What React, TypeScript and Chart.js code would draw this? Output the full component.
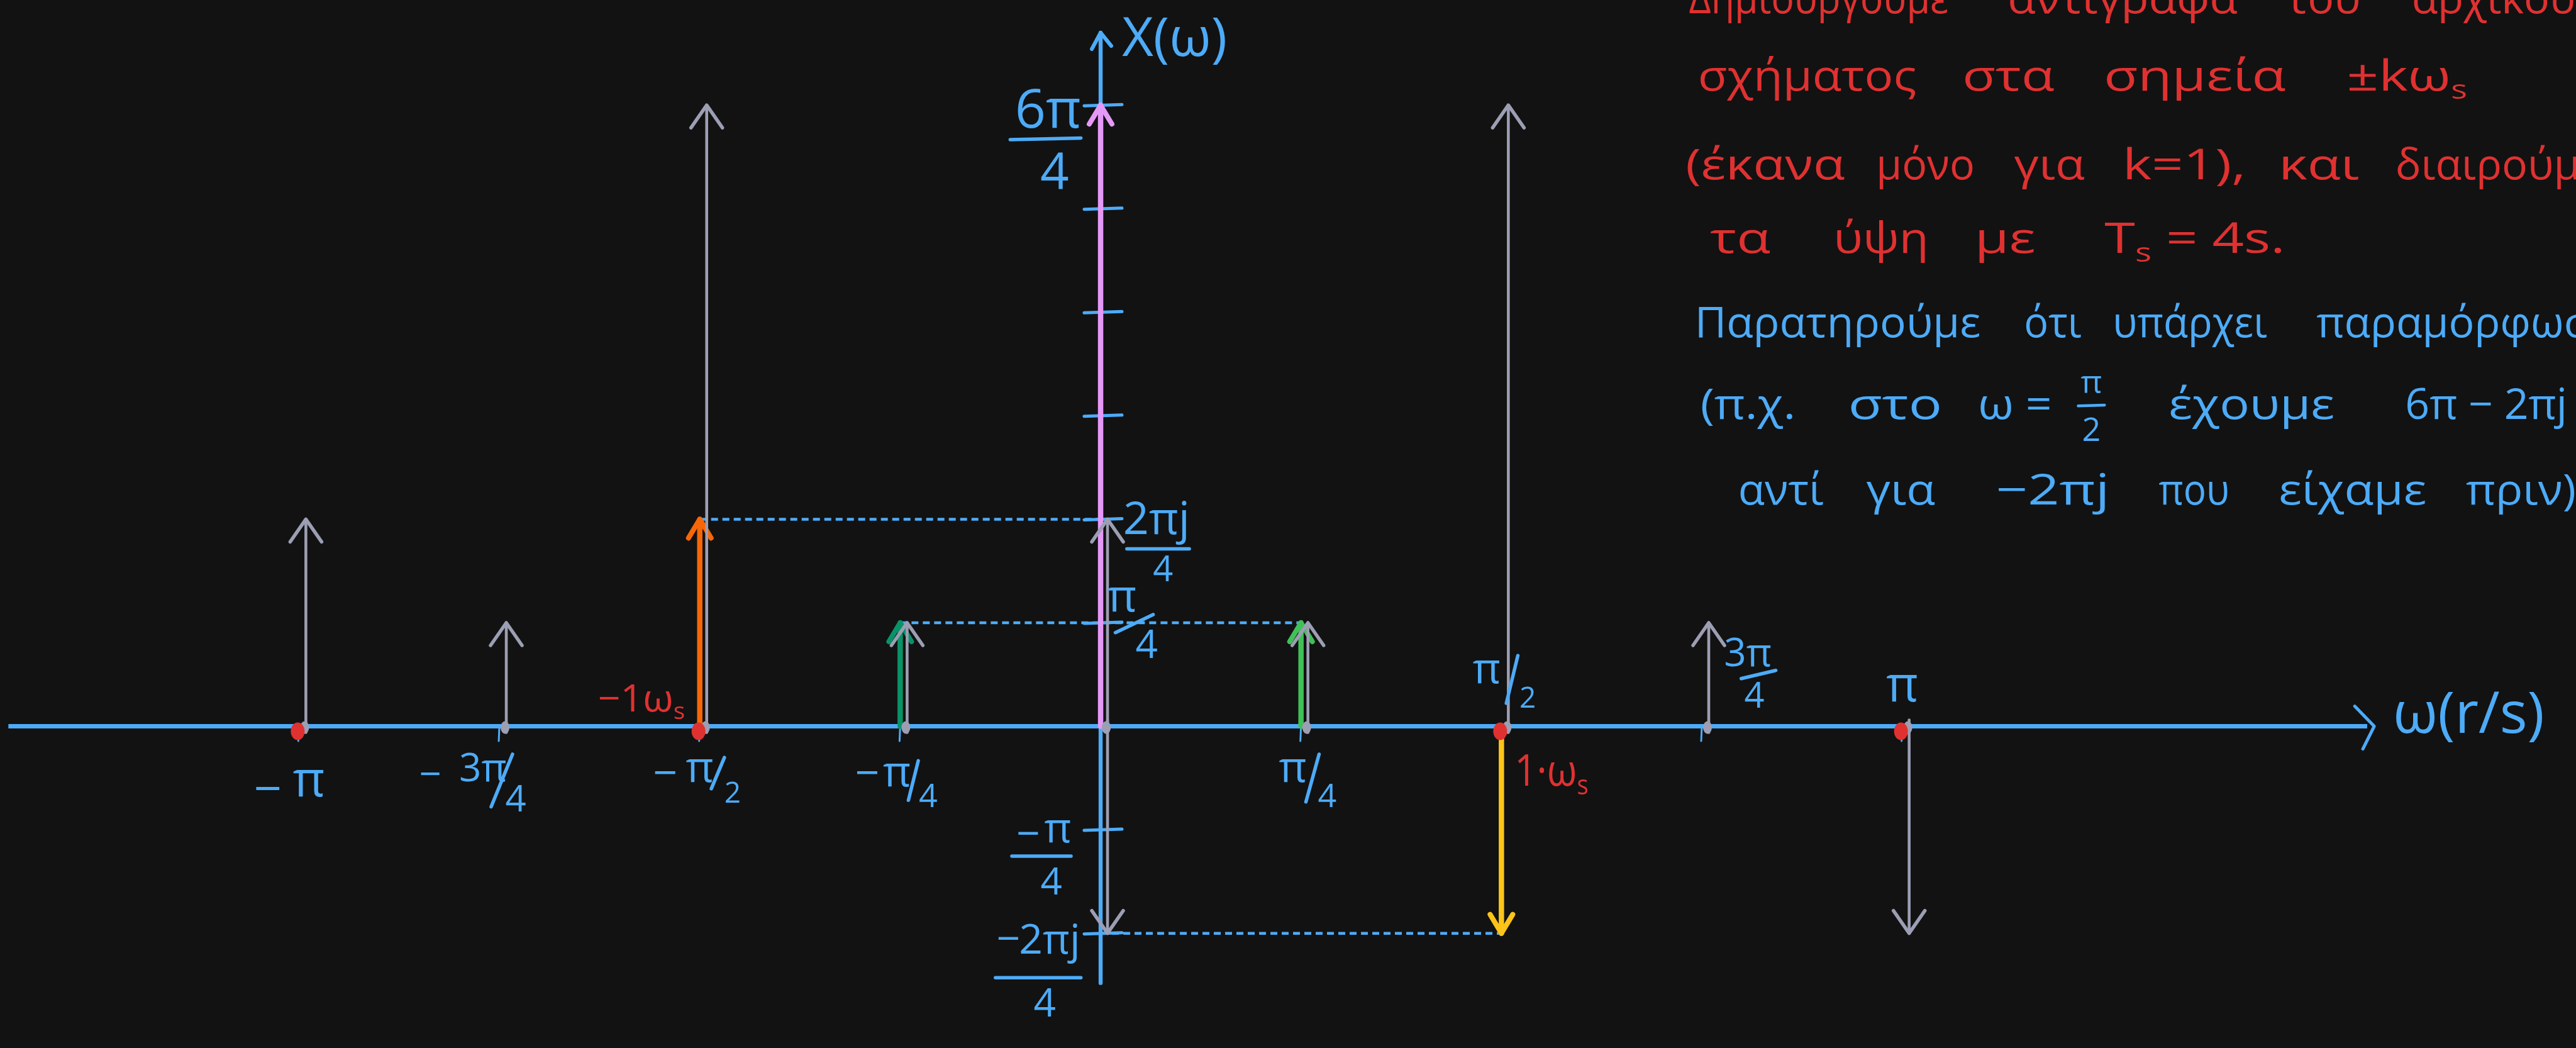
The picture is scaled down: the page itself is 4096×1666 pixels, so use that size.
import React, { useEffect, useRef } from 'react';
import { Chart, registerables } from 'chart.js';

Chart.register(...registerables);

const WIDTH = 4096;
const HEIGHT = 1666;
const U = WIDTH / 1568; // layout unit used for offsets and note positions

const FONT = '"Open Sans", "DejaVu Sans", sans-serif';
const font = (px: number) => `${px}px ${FONT}`;

const C = {
  bg: '#121212',
  blue: '#4dabf7',
  gray: '#9c9eb3',
  red: '#e03131',
  pink: '#e599f7',
  orange: '#f76707',
  darkGreen: '#099268',
  green: '#40c057',
  yellow: '#fcc419',
};

// ω positions, in units of π/4
const omegaTicks = [-4, -3, -2, -1, 0, 1, 2, 3, 4];
const omegaLabels = ['−π', '−3π/4', '−π/2', '−π/4', '', 'π/4', 'π/2', '3π/4', 'π'];

// X(ω) levels, in units of π/4
const levelTicks = [6, 5, 4, 3, 2, 1, -1, -2];
const labelledLevels = [6, 2, 1, -1, -2];
const levelLabels = ['6π/4', '2πj/4', 'π/4', '−π/4', '−2πj/4'];

// spectrum of the original signal
const spectrumOmega = [-2, -1, 0, 1, 2];
const spectrumHeight = [2, 1, 6, 1, -2];
const spectrumColors = [C.orange, C.darkGreen, C.pink, C.green, C.yellow];

// copy shifted to +ωs
const copyRightOmega = [0, 1, 2, 3, 4];
const copyRightHeight = [2, 1, 6, 1, -2];

// copy shifted to −ωs
const copyLeftOmega = [-4, -3, -2, -1, 0];
const copyLeftHeight = [2, 1, 6, 1, -2];

// multiples of ωs marked on the ω axis
const sampleOmega = [-4, -2, 2, 4];

// dotted read-off lines
const guideLevel = [2, 1, -2];
const guideFrom = [-2, -1, 0];
const guideTo = [0, 1, 2];

// visible window of the two scales
const OMEGA_MIN = -5.4918;
const OMEGA_MAX = 7.362;
const LEVEL_MIN = -3.108;
const LEVEL_MAX = 7.016;

// hand-drawn axes extents (data units)
const AXIS_X_START = -5.45;
const AXIS_X_END = 6.32;
const AXIS_X_TIP = 6.355;
const AXIS_Y_BOTTOM = -2.48;
const AXIS_Y_TOP = 6.7;

type Part = { t: string; sub?: boolean };
type Word = { x: number; w?: number; parts?: Part[]; frac?: [string, string] };
type NoteLine = { color: string; base: number; words: Word[] };

const NOTE_FS = 68;
const NOTE_LINES: NoteLine[] = [
  {
    color: C.red, base: 8, words: [
      { x: 1028, w: 158, parts: [{ t: 'Δημιουργούμε' }] },
      { x: 1222, w: 140, parts: [{ t: 'αντίγραφα' }] },
      { x: 1392, w: 45, parts: [{ t: 'του' }] },
      { x: 1468, parts: [{ t: 'αρχικού' }] },
    ],
  },
  {
    color: C.red, base: 55, words: [
      { x: 1033.5, w: 133, parts: [{ t: 'σχήματος' }] },
      { x: 1194.5, w: 56, parts: [{ t: 'στα' }] },
      { x: 1280.6, w: 112, parts: [{ t: 'σημεία' }] },
      { x: 1428.5, w: 108, parts: [{ t: '±kω' }, { t: 's', sub: true }] },
    ],
  },
  {
    color: C.red, base: 109, words: [
      { x: 1026, w: 97, parts: [{ t: '(έκανα' }] },
      { x: 1142, w: 60, parts: [{ t: 'μόνο' }] },
      { x: 1226, w: 43, parts: [{ t: 'για' }] },
      { x: 1292, w: 75, parts: [{ t: 'k=1),' }] },
      { x: 1387, w: 49, parts: [{ t: 'και' }] },
      { x: 1458, parts: [{ t: 'διαιρούμε' }] },
    ],
  },
  {
    color: C.red, base: 154, words: [
      { x: 1041, w: 47, parts: [{ t: 'τα' }] },
      { x: 1116, w: 58, parts: [{ t: 'ύψη' }] },
      { x: 1202, w: 45, parts: [{ t: 'με' }] },
      { x: 1281, w: 129, parts: [{ t: 'T' }, { t: 's', sub: true }, { t: ' = 4s.' }] },
    ],
  },
  {
    color: C.blue, base: 205, words: [
      { x: 1031.6, w: 174, parts: [{ t: 'Παρατηρούμε' }] },
      { x: 1232, w: 35, parts: [{ t: 'ότι' }] },
      { x: 1286, w: 94, parts: [{ t: 'υπάρχει' }] },
      { x: 1410, parts: [{ t: 'παραμόρφωση' }] },
    ],
  },
  {
    color: C.blue, base: 255, words: [
      { x: 1035, w: 58, parts: [{ t: '(π.χ.' }] },
      { x: 1125, w: 58, parts: [{ t: 'στο' }] },
      { x: 1204, w: 45, parts: [{ t: 'ω =' }] },
      { x: 1273, frac: ['π', '2'] },
      { x: 1320, w: 101, parts: [{ t: 'έχουμε' }] },
      { x: 1464, parts: [{ t: '6π − 2πj' }] },
    ],
  },
  {
    color: C.blue, base: 307, words: [
      { x: 1058, w: 52, parts: [{ t: 'αντί' }] },
      { x: 1136, w: 42, parts: [{ t: 'για' }] },
      { x: 1215, w: 69, parts: [{ t: '−2πj' }] },
      { x: 1314, w: 43, parts: [{ t: 'που' }] },
      { x: 1387, w: 90, parts: [{ t: 'είχαμε' }] },
      { x: 1501, w: 67, parts: [{ t: 'πριν)' }] },
    ],
  },
];

// label placement, offsets in layout units from the tick anchor (glyph-box centres)
type LabelLayout = {
  num: [number, number];
  pre?: [number, number];
  den?: [number, number];
  bar?: [number, number, number, number];
  fs: number;
  denFs?: number;
};

const OMEGA_LABEL_LAYOUT: (LabelLayout | null)[] = [
  { num: [6, 35], pre: [-19, 38], fs: 78 },
  { num: [-10, 25], pre: [-42, 29], den: [10, 44], bar: [8, 17, -5, 49], fs: 62, denFs: 58 },
  { num: [0, 27], pre: [-21, 28], den: [20, 40], bar: [15, 19, 7, 38], fs: 68, denFs: 46 },
  { num: [-2, 30], pre: [-20, 28], den: [17, 42], bar: [11, 21, 5, 45], fs: 68, denFs: 52 },
  null,
  { num: [-5, 27], den: [16, 42], bar: [11, 17, 3, 46], fs: 68, denFs: 52 },
  { num: [-9, -33], den: [16, -18], bar: [10, -43, 3, -14], fs: 68, denFs: 46 },
  { num: [28, -45], den: [32, -19], bar: [24, -29, 45, -34], fs: 62, denFs: 56 },
  { num: [0, -23], fs: 78 },
];

const LEVEL_LABEL_LAYOUT: LabelLayout[] = [
  { num: [-32, 2], den: [-28, 40], bar: [-55, 21, -12, 20], fs: 86, denFs: 80 },
  { num: [34, 2], den: [38, 30], bar: [16, 18, 54, 18], fs: 72, denFs: 56 },
  { num: [13, -14], den: [28, 13], bar: [9, 6, 32, -5], fs: 72, denFs: 62 },
  { num: [-26, 1], pre: [-44, 2], den: [-30, 31], bar: [-54, 16, -18, 16], fs: 66, denFs: 60 },
  { num: [-31, 6], pre: [-56, 3], den: [-34, 42], bar: [-64, 27, -12, 27], fs: 66, denFs: 62 },
];

type ImpulseStyle = { dx: number; width: number; head: number; half: number; len: number; tail: number };
const SPECTRUM_STYLE: ImpulseStyle = { dx: 0, width: 8.5, head: 8, half: 18, len: 30, tail: 0 };
const COPY_STYLE: ImpulseStyle = { dx: 11, width: 4.6, head: 5.5, half: 25, len: 36, tail: 10 };

function splitLabel(s: string) {
  let pre = '';
  let rest = s;
  if (rest.startsWith('−')) {
    pre = '−';
    rest = rest.slice(1);
  }
  const [num, den] = rest.split('/');
  return { pre, num, den };
}

// text centred on its visible glyph box
function fillCentered(ctx: CanvasRenderingContext2D, text: string, cx: number, cy: number) {
  ctx.textAlign = 'center';
  ctx.textBaseline = 'alphabetic';
  const m = ctx.measureText(text);
  ctx.fillText(text, cx, cy + (m.actualBoundingBoxAscent - m.actualBoundingBoxDescent) / 2);
}

function drawLabel(ctx: CanvasRenderingContext2D, text: string, ax: number, ay: number, L: LabelLayout, color: string) {
  const { pre, num, den } = splitLabel(text);
  ctx.fillStyle = color;
  ctx.strokeStyle = color;
  ctx.font = font(L.fs);
  if (pre && L.pre) fillCentered(ctx, pre, ax + L.pre[0] * U, ay + L.pre[1] * U);
  const numText = pre && !L.pre ? pre + num : num;
  fillCentered(ctx, numText, ax + L.num[0] * U, ay + L.num[1] * U);
  if (den && L.den) {
    ctx.font = font(L.denFs ?? L.fs);
    fillCentered(ctx, den, ax + L.den[0] * U, ay + L.den[1] * U);
  }
  if (L.bar) {
    ctx.lineWidth = 5.5;
    ctx.lineCap = 'round';
    ctx.beginPath();
    ctx.moveTo(ax + L.bar[0] * U, ay + L.bar[1] * U);
    ctx.lineTo(ax + L.bar[2] * U, ay + L.bar[3] * U);
    ctx.stroke();
  }
}

function drawParts(ctx: CanvasRenderingContext2D, parts: Part[], fs: number, x: number, y: number, targetW?: number) {
  ctx.textAlign = 'left';
  ctx.textBaseline = 'alphabetic';
  const sizes = parts.map((p) => (p.sub ? fs * 0.62 : fs));
  const widths = parts.map((p, i) => {
    ctx.font = font(sizes[i]);
    return ctx.measureText(p.t).width;
  });
  const total = widths.reduce((a, b) => a + b, 0);
  let sx = 1;
  if (targetW) sx = Math.min(1.3, Math.max(0.7, targetW / total));
  ctx.save();
  ctx.translate(x, y);
  ctx.scale(sx, 1);
  let cx = 0;
  parts.forEach((p, i) => {
    ctx.font = font(sizes[i]);
    ctx.fillText(p.t, cx, p.sub ? fs * 0.2 : 0);
    cx += widths[i];
  });
  ctx.restore();
}

function drawImpulse(ctx: CanvasRenderingContext2D, x: number, y0: number, y1: number, color: string, st: ImpulseStyle) {
  const dir = y1 < y0 ? -1 : 1;
  ctx.strokeStyle = color;
  ctx.lineCap = 'round';
  ctx.lineJoin = 'round';
  ctx.lineWidth = st.width;
  ctx.beginPath();
  ctx.moveTo(x, y0 - dir * st.tail);
  ctx.lineTo(x, y1);
  ctx.stroke();
  ctx.lineWidth = st.head;
  ctx.beginPath();
  ctx.moveTo(x - st.half, y1 - dir * st.len);
  ctx.lineTo(x, y1);
  ctx.lineTo(x + st.half, y1 - dir * st.len);
  ctx.stroke();
}

const sketchPlugin = {
  id: 'spectrumSketch',
  beforeDraw(chart: any) {
    const { ctx, width, height } = chart;
    ctx.save();
    ctx.fillStyle = C.bg;
    ctx.fillRect(0, 0, width, height);
    ctx.restore();
  },
  afterDatasetsDraw(chart: any) {
    const ctx: CanvasRenderingContext2D = chart.ctx;
    const xs = chart.scales.x;
    const ys = chart.scales.y;
    const X = (v: number) => xs.getPixelForValue(v);
    const Y = (v: number) => ys.getPixelForValue(v);
    const x0 = X(0);
    const y0 = Y(0);

    ctx.save();

    // notes
    NOTE_LINES.forEach((line) => {
      ctx.fillStyle = line.color;
      ctx.strokeStyle = line.color;
      line.words.forEach((w) => {
        const bx = w.x * U;
        const by = line.base * U;
        if (w.frac) {
          ctx.font = font(52);
          fillCentered(ctx, w.frac[0], bx, by - 21 * U);
          fillCentered(ctx, w.frac[1], bx, by + 6 * U);
          ctx.lineWidth = 4.5;
          ctx.lineCap = 'round';
          ctx.beginPath();
          ctx.moveTo(bx - 8 * U, by - 8 * U);
          ctx.lineTo(bx + 8 * U, by - 8.5 * U);
          ctx.stroke();
        } else if (w.parts) {
          drawParts(ctx, w.parts, NOTE_FS, bx, by, w.w ? w.w * U : undefined);
        }
      });
    });

    // dotted read-off lines
    ctx.strokeStyle = C.blue;
    ctx.lineWidth = 4.5;
    ctx.lineCap = 'butt';
    ctx.setLineDash([11, 7]);
    guideLevel.forEach((lv, i) => {
      ctx.beginPath();
      ctx.moveTo(X(guideFrom[i]), Y(lv));
      ctx.lineTo(X(guideTo[i]), Y(lv));
      ctx.stroke();
    });
    ctx.setLineDash([]);

    // ω axis with open arrow head
    ctx.strokeStyle = C.blue;
    ctx.lineWidth = 7;
    ctx.beginPath();
    ctx.moveTo(X(AXIS_X_START), y0);
    ctx.lineTo(X(AXIS_X_END), y0);
    ctx.stroke();
    const tipX = X(AXIS_X_TIP);
    ctx.lineWidth = 5;
    ctx.lineCap = 'round';
    ctx.lineJoin = 'round';
    ctx.beginPath();
    ctx.moveTo(tipX - 31, y0 - 32);
    ctx.lineTo(tipX, y0);
    ctx.lineTo(tipX - 18, y0 + 36);
    ctx.stroke();

    // X(ω) axis with arrow head
    ctx.lineWidth = 6.4;
    ctx.lineCap = 'round';
    ctx.beginPath();
    ctx.moveTo(x0, Y(AXIS_Y_BOTTOM));
    ctx.lineTo(x0, Y(AXIS_Y_TOP));
    ctx.stroke();
    const topY = Y(AXIS_Y_TOP);
    ctx.lineWidth = 6;
    ctx.beginPath();
    ctx.moveTo(x0 - 14, topY + 26);
    ctx.lineTo(x0, topY);
    ctx.lineTo(x0 + 17, topY + 21);
    ctx.stroke();

    // level ticks across the X(ω) axis
    ctx.lineWidth = 5;
    levelTicks.forEach((lv) => {
      ctx.beginPath();
      ctx.moveTo(x0 - 10 * U, Y(lv) + 1);
      ctx.lineTo(x0 + 13 * U, Y(lv) - 1);
      ctx.stroke();
    });

    // small ticks under the ω axis
    ctx.lineWidth = 3;
    omegaTicks.forEach((w) => {
      if (w === 0) return;
      ctx.beginPath();
      ctx.moveTo(X(w), y0);
      ctx.lineTo(X(w) - 1, y0 + 9 * U);
      ctx.stroke();
    });

    // impulses: original spectrum first, shifted copies after
    chart.data.datasets.forEach((ds: any, di: number) => {
      const meta = chart.getDatasetMeta(di);
      const st = ds.kind === 'copy' ? COPY_STYLE : SPECTRUM_STYLE;
      meta.data.forEach((el: any, j: number) => {
        const color = ds.kind === 'copy' ? C.gray : ds.impulseColors[j];
        drawImpulse(ctx, el.x + st.dx, y0, el.y, color, st);
      });
    });

    // small marks at the copy bases
    ctx.fillStyle = C.gray;
    chart.data.datasets.forEach((ds: any, di: number) => {
      if (ds.kind !== 'copy') return;
      chart.getDatasetMeta(di).data.forEach((el: any) => {
        ctx.beginPath();
        ctx.ellipse(el.x + COPY_STYLE.dx - 2, y0 + 2, 7, 10, 0, 0, Math.PI * 2);
        ctx.fill();
      });
    });

    // ±kωs markers
    ctx.fillStyle = C.red;
    sampleOmega.forEach((w) => {
      ctx.beginPath();
      ctx.ellipse(X(w) - 2, y0 + 8, 11, 14, 0, 0, Math.PI * 2);
      ctx.fill();
    });

    // ω tick labels
    omegaTicks.forEach((w, i) => {
      const L = OMEGA_LABEL_LAYOUT[i];
      if (!L || !omegaLabels[i]) return;
      drawLabel(ctx, omegaLabels[i], X(w), y0, L, C.blue);
    });

    // level labels
    labelledLevels.forEach((lv, i) => {
      drawLabel(ctx, levelLabels[i], x0, Y(lv), LEVEL_LABEL_LAYOUT[i], C.blue);
    });

    // axis titles
    ctx.fillStyle = C.blue;
    ctx.textAlign = 'left';
    ctx.textBaseline = 'alphabetic';
    ctx.font = font(86);
    ctx.fillText('X(ω)', 683 * U, 34 * U);
    ctx.font = font(92);
    ctx.fillText('ω(r/s)', tipX + 30, y0 + 4 * U);

    // shift labels
    ctx.fillStyle = C.red;
    drawParts(ctx, [{ t: '−1ω' }, { t: 's', sub: true }], 60, X(-2) - 62 * U, y0 - 9 * U, 53 * U);
    drawParts(ctx, [{ t: '1·ω' }, { t: 's', sub: true }], 70, X(2) + 8 * U, y0 + 36 * U, 45 * U);

    ctx.restore();
  },
};

export default function App() {
  const ref = useRef<HTMLCanvasElement>(null);

  useEffect(() => {
    document.body.style.margin = '0';
    document.body.style.background = C.bg;
    document.body.style.overflow = 'hidden';
    const canvas = ref.current;
    if (!canvas) return;

    const toPoints = (xsArr: number[], ysArr: number[]) => xsArr.map((x, i) => ({ x, y: ysArr[i] }));

    const chart = new Chart(canvas, {
      type: 'scatter',
      data: {
        datasets: [
          {
            label: 'X(ω)',
            data: toPoints(spectrumOmega, spectrumHeight),
            pointRadius: 0,
            showLine: false,
            kind: 'spectrum',
            impulseColors: spectrumColors,
          } as any,
          {
            label: 'X(ω + ωs)',
            data: toPoints(copyLeftOmega, copyLeftHeight),
            pointRadius: 0,
            showLine: false,
            kind: 'copy',
          } as any,
          {
            label: 'X(ω − ωs)',
            data: toPoints(copyRightOmega, copyRightHeight),
            pointRadius: 0,
            showLine: false,
            kind: 'copy',
          } as any,
        ],
      },
      options: {
        animation: false,
        responsive: false,
        maintainAspectRatio: false,
        devicePixelRatio: 1,
        events: [],
        layout: { padding: 0 },
        plugins: {
          legend: { display: false },
          tooltip: { enabled: false },
          title: { display: false },
        },
        scales: {
          x: { type: 'linear', min: OMEGA_MIN, max: OMEGA_MAX, display: false },
          y: { type: 'linear', min: LEVEL_MIN, max: LEVEL_MAX, display: false },
        },
      },
      plugins: [sketchPlugin],
    });

    return () => chart.destroy();
  }, []);

  return (
    <canvas
      ref={ref}
      width={WIDTH}
      height={HEIGHT}
      style={{ display: 'block', width: WIDTH, height: HEIGHT }}
    />
  );
}
